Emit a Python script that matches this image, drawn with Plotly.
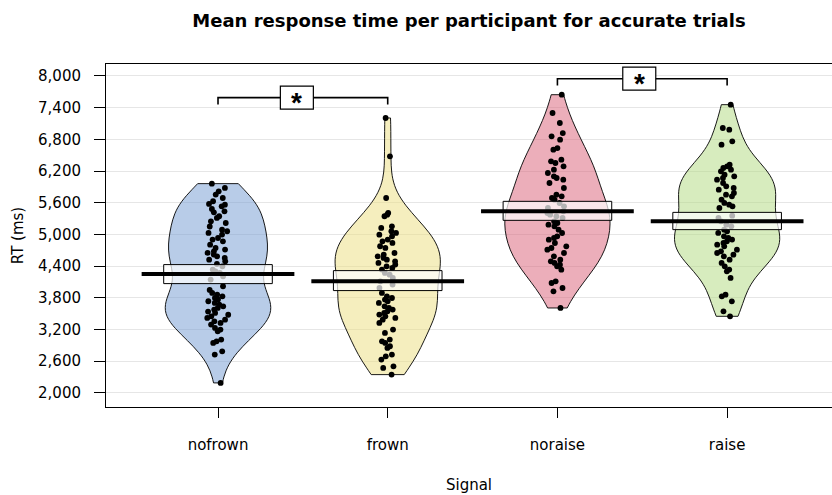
import numpy as np
import plotly.graph_objects as go

categories = ["nofrown", "frown", "noraise", "raise"]

nofrown = [5962, 5880, 5817, 5754, 5690, 5628, 5577, 5564, 5533, 5482, 5438, 5419, 5344, 5312,
           5249, 5217, 5150, 5091, 5060, 5028, 4997, 4933, 4902, 4870, 4807, 4744, 4713, 4681,
           4650, 4618, 4586, 4555, 4523, 4492, 4440, 4397, 4334, 4300, 4271, 4208, 4145, 4019,
           3950, 3892, 3861, 3829, 3798, 3770, 3735, 3703, 3671, 3640, 3608, 3577, 3540, 3514,
           3480, 3450, 3419, 3387, 3356, 3324, 3293, 3230, 3198, 3167, 3009, 2977, 2946, 2788,
           2725, 2189]
frown = [7205, 6479, 5690, 5407, 5375, 5344, 5154, 5123, 5060, 5028, 4996, 4965, 4902, 4870,
         4839, 4776, 4744, 4649, 4618, 4586, 4555, 4523, 4492, 4460, 4429, 4397, 4366, 4334,
         4271, 4239, 4176, 4113, 4050, 3987, 3892, 3829, 3797, 3766, 3734, 3703, 3640, 3608,
         3577, 3545, 3514, 3482, 3450, 3419, 3387, 3324, 3198, 3135, 3009, 2977, 2946, 2883,
         2851, 2725, 2693, 2630, 2504, 2472, 2346]
noraise = [7646, 7299, 7110, 6920, 6857, 6794, 6636, 6605, 6416, 6384, 6353, 6289, 6226, 6163,
           6100, 6069, 6037, 5974, 5879, 5753, 5722, 5690, 5658, 5595, 5532, 5501, 5438, 5406,
           5374, 5343, 5311, 5248, 5217, 5185, 5154, 5091, 5027, 4964, 4933, 4901, 4838, 4775,
           4743, 4712, 4649, 4586, 4523, 4491, 4460, 4428, 4397, 4333, 4113, 4081, 3986, 3923,
           3608]
raise_ = [7457, 7015, 6984, 6763, 6700, 6321, 6290, 6258, 6227, 6195, 6132, 6100, 6069, 6037,
          5974, 5911, 5880, 5848, 5785, 5753, 5722, 5659, 5596, 5564, 5533, 5501, 5356, 5312,
          5249, 5185, 5154, 5091, 5059, 5028, 4965, 4933, 4902, 4870, 4838, 4807, 4775, 4712,
          4681, 4649, 4617, 4586, 4523, 4460, 4397, 4334, 4302, 4176, 3860, 3829, 3734, 3545,
          3450]

means = [4252, 4112, 5437, 5248]
inf_low = [4069, 3937, 5267, 5091]
inf_high = [4429, 4315, 5627, 5418]

# significance comparisons: (left index, right index, bracket level)
comparisons = [(0, 1, 7590), (2, 3, 7949)]
comparison_labels = ["*", "*"]

y_ticks = [2000, 2600, 3200, 3800, 4400, 5000, 5600, 6200, 6800, 7400, 8000]

groups = [nofrown, frown, noraise, raise_]
fills = ["rgba(113,153,209,0.5)", "rgba(235,221,125,0.5)",
         "rgba(217,93,117,0.5)", "rgba(175,217,125,0.5)"]

FONT = "DejaVu Sans"

fig = go.Figure()


def nrd0(v):
    v = np.asarray(v, dtype=float)
    sd = v.std(ddof=1)
    iqr = np.subtract(*np.percentile(v, [75, 25]))
    lo = min(sd, iqr / 1.34)
    return 0.9 * lo * len(v) ** -0.2


for i, vals in enumerate(groups):
    fig.add_trace(go.Violin(
        x=[i] * len(vals), y=vals,
        width=0.62, scalemode="width", spanmode="hard",
        bandwidth=nrd0(vals),
        fillcolor=fills[i], line=dict(color="black", width=0.9),
        points="all", pointpos=0, jitter=0.22,
        marker=dict(color="black", size=5.8, line=dict(width=0)),
        box_visible=False, meanline_visible=False,
        showlegend=False, hoverinfo="skip",
    ))

shapes = []
for i in range(len(categories)):
    shapes.append(dict(type="rect", xref="x", yref="y", layer="above",
                       x0=i - 0.32, x1=i + 0.32, y0=inf_low[i], y1=inf_high[i],
                       fillcolor="rgba(255,255,255,0.7)",
                       line=dict(color="black", width=1)))
    shapes.append(dict(type="line", xref="x", yref="y", layer="above",
                       x0=i - 0.45, x1=i + 0.45, y0=means[i], y1=means[i],
                       line=dict(color="black", width=4)))

annotations = []
drop = 130
for (a, b, lvl), lab, shift in zip(comparisons, comparison_labels, [-6, -3]):
    shapes.append(dict(type="path", xref="x", yref="y", layer="above",
                       path=f"M {a},{lvl - drop} L {a},{lvl} L {b},{lvl} L {b},{lvl - drop}",
                       line=dict(color="black", width=1.6)))
    mid = (a + b) / 2
    shapes.append(dict(type="rect", xref="x", yref="y", layer="above",
                       xsizemode="pixel", ysizemode="pixel",
                       xanchor=mid, yanchor=lvl,
                       x0=-16.5 + shift, x1=16.5 + shift, y0=-11.5, y1=11.5,
                       fillcolor="white", line=dict(color="black", width=1.2)))
    annotations.append(dict(x=mid, y=lvl, xref="x", yref="y", text="<b>" + lab + "</b>",
                            showarrow=False, xshift=shift, yshift=-5,
                            font=dict(family="Liberation Sans", size=28, color="black")))

fig.update_layout(
    width=832, height=495,
    margin=dict(l=106, r=0, t=64, b=88),
    paper_bgcolor="white", plot_bgcolor="white",
    title=dict(text="<b>Mean response time per participant for accurate trials</b>",
               x=0.5, xref="paper", xanchor="center", y=0.958, yref="container",
               yanchor="middle",
               font=dict(family=FONT, size=18, color="black")),
    shapes=shapes, annotations=annotations,
    xaxis=dict(range=[-0.66, 3.618], tickmode="array",
               tickvals=list(range(len(categories))), ticktext=categories,
               showgrid=False, zeroline=False,
               showline=True, mirror=True, linecolor="black", linewidth=1,
               ticks="outside", ticklen=10, tickcolor="black",
               ticklabelstandoff=14,
               tickfont=dict(family=FONT, size=15, color="black"),
               title=dict(text="Signal", standoff=26,
                          font=dict(family=FONT, size=15, color="black"))),
    yaxis=dict(range=[1733, 8227], tickmode="array", tickvals=y_ticks,
               tickformat=",", showgrid=True, gridcolor="#e6e6e6", gridwidth=1,
               zeroline=False, showline=True, mirror=False,
               linecolor="black", linewidth=1,
               ticks="outside", ticklen=11, tickcolor="black",
               ticklabelstandoff=10,
               tickfont=dict(family=FONT, size=15, color="black"),
               title=dict(text="RT (ms)", standoff=10,
                          font=dict(family=FONT, size=15, color="black"))),
)

fig.write_html("out.html", config={"displayModeBar": False},
               post_script="document.body.style.margin='0px';document.body.style.overflow='hidden';")
